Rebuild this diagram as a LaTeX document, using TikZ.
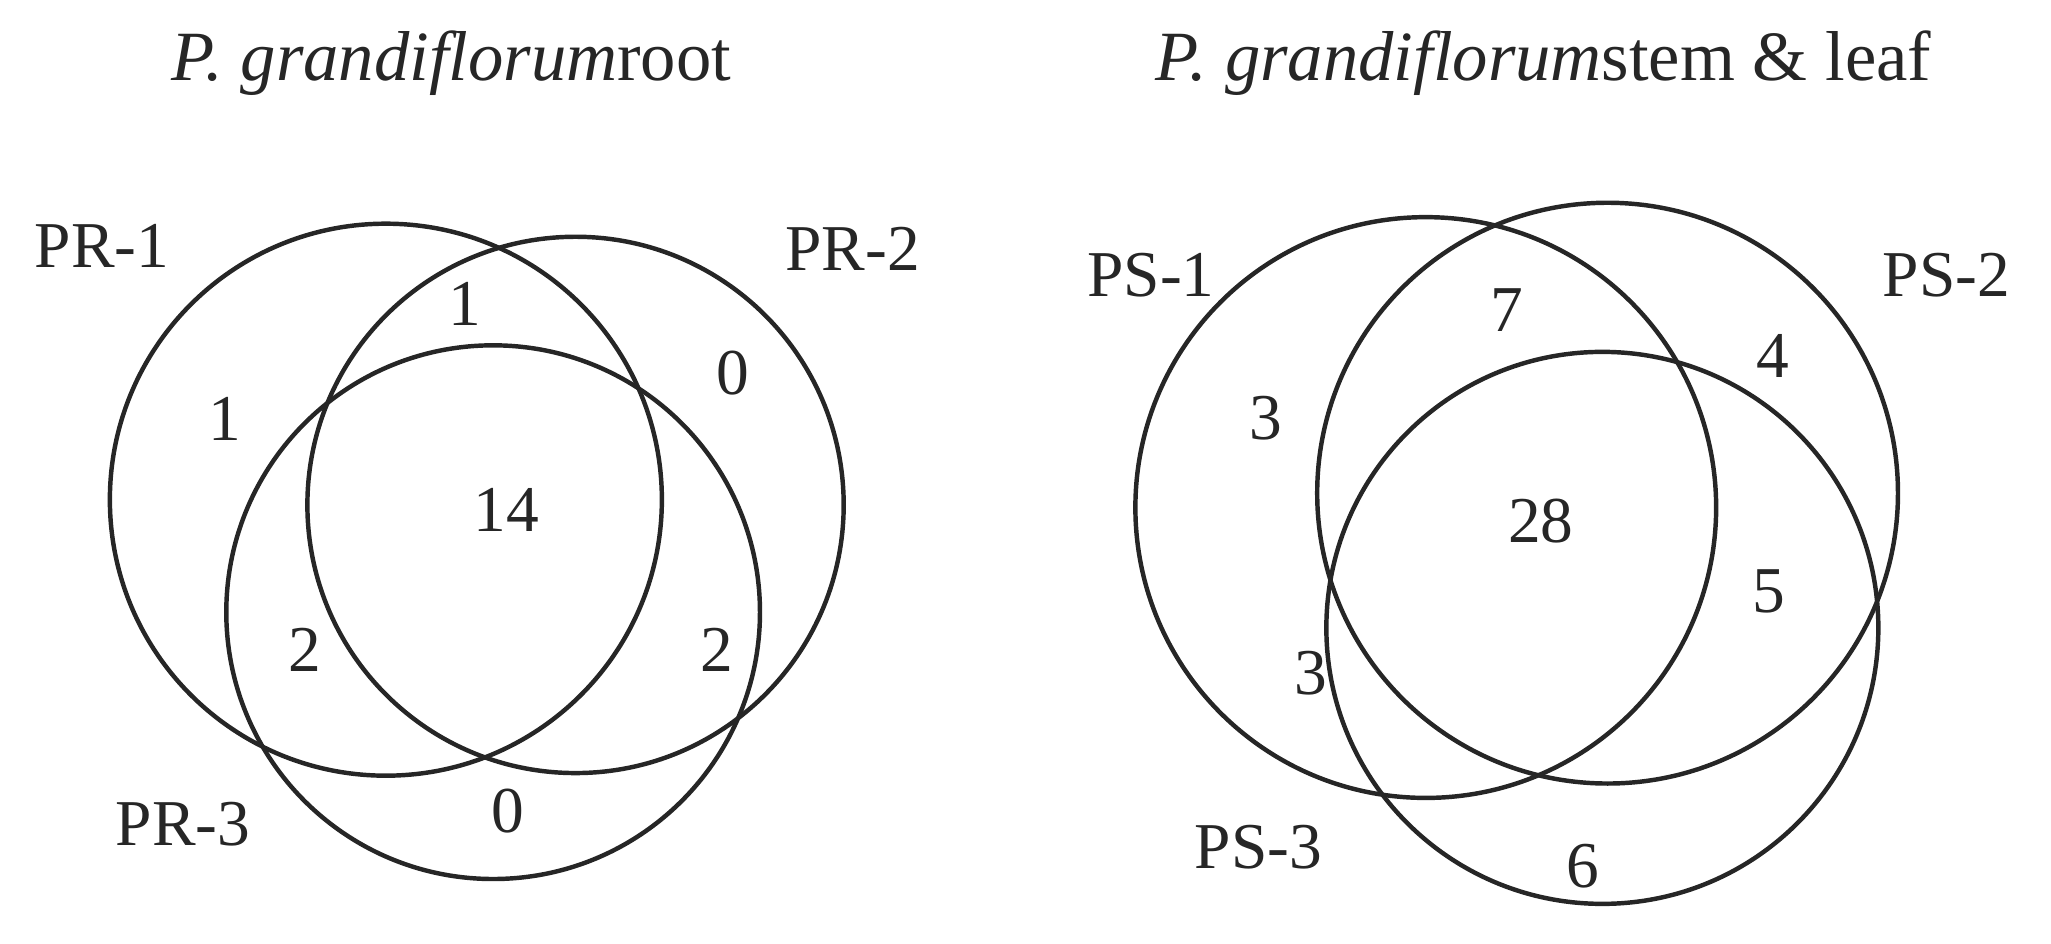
\documentclass[tikz,border=0pt]{standalone}
\usepackage{fontspec}
\setmainfont{Liberation Serif}
\begin{document}
\begin{tikzpicture}[x=1pt,y=-1pt,
  venn/.style={draw=black!85,line width=3.4pt},
  lab/.style={font=\fontsize{50}{56}\selectfont,text=black!85,inner sep=0pt},
  ttl/.style={font=\fontsize{54}{60}\selectfont,text=black!85,inner sep=0pt}]
\useasboundingbox (0,0) rectangle (1568,721);
\draw[venn] (295,382) circle (211);
\draw[venn] (440,386) circle (205);
\draw[venn] (377,468) circle (204);
\draw[venn] (1090,388) circle (222);
\draw[venn] (1229,377) circle (222);
\draw[venn] (1225,480) circle (211);
\node[ttl] (t1) at (345,48) {\textit{P. grandiflorum}root};
\node[ttl] (t2) at (1180,48) {\textit{P. grandiflorum}stem \& leaf};
\node[lab] (a1) at (78,188) {PR-1};
\node[lab] (a2) at (652,190) {PR-2};
\node[lab] (a3) at (140,630) {PR-3};
\node[lab] (n1) at (172,320) {1};
\node[lab] (n2) at (355,232) {1};
\node[lab] (n3) at (560,285) {0};
\node[lab] (n4) at (387,390) {14};
\node[lab] (n5) at (233,497) {2};
\node[lab] (n6) at (548,497) {2};
\node[lab] (n7) at (388,620) {0};
\node[lab] (b1) at (880,210) {PS-1};
\node[lab] (b2) at (1488,210) {PS-2};
\node[lab] (b3) at (962,648) {PS-3};
\node[lab] (m1) at (968,320) {3};
\node[lab] (m2) at (1152,237) {7};
\node[lab] (m3) at (1355,272) {4};
\node[lab] (m4) at (1178,398) {28};
\node[lab] (m5) at (1352,452) {5};
\node[lab] (m6) at (1002,515) {3};
\node[lab] (m7) at (1210,662) {6};
\end{tikzpicture}
\end{document}
